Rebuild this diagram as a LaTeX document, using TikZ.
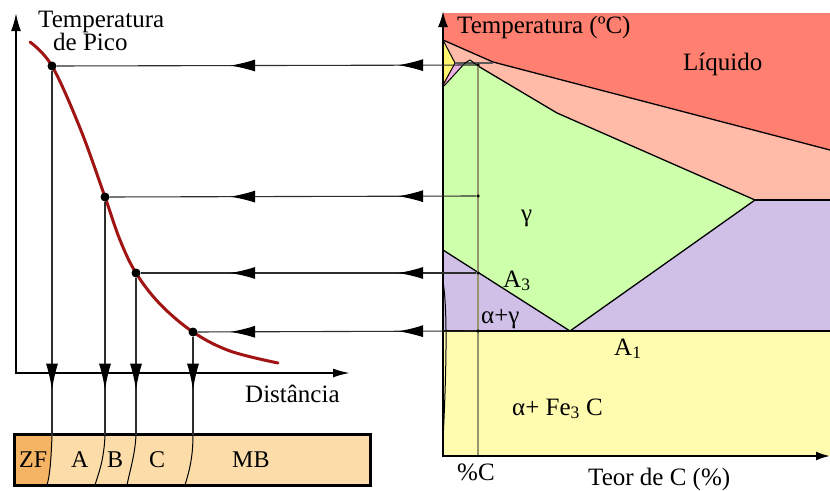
\documentclass[tikz,border=0pt]{standalone}
\usepackage{fontspec}
\setmainfont{Liberation Serif}
\usetikzlibrary{arrows.meta,decorations.markings}
\definecolor{liq}{RGB}{255,128,112}
\definecolor{salm}{RGB}{255,187,168}
\definecolor{gam}{RGB}{206,255,170}
\definecolor{purp}{RGB}{208,192,232}
\definecolor{yel}{RGB}{255,252,176}
\definecolor{delt}{RGB}{255,245,110}
\definecolor{pinkd}{RGB}{235,178,225}
\definecolor{barc}{RGB}{252,221,170}
\definecolor{zfc}{RGB}{245,180,100}
\definecolor{curvec}{RGB}{160,20,20}
\definecolor{pcline}{RGB}{150,150,110}
\definecolor{gridc}{RGB}{45,45,45}
\begin{document}
\begin{tikzpicture}[x=1pt,y=-1pt,
  lbl/.style={font=\fontsize{25}{30}\selectfont, inner sep=0pt, anchor=base west},
  blbl/.style={font=\fontsize{24}{28}\selectfont, inner sep=0pt, anchor=base west},
  ldot/.style={circle, fill=black, inner sep=0pt, minimum size=9pt},
  rdot/.style={circle, fill=black, inner sep=0pt, minimum size=3.5pt},
  conn/.style={draw=gridc, line width=1.1pt},
  hmarks/.style={postaction={decorate,decoration={markings,
     mark=at position 78pt with {\arrow{Latex[length=25pt,width=12pt,color=black]}},
     mark=at position 246pt with {\arrow{Latex[length=25pt,width=12pt,color=black]}}}}},
  vmark/.style={postaction={decorate,decoration={markings,
     mark=at position #1 with {\arrow{Latex[length=26pt,width=12pt,color=black]}}}}},
  axis/.style={draw=black, line width=2pt},
  phase/.style={draw=black, line width=1.3pt, line join=round}
]
\useasboundingbox (0,0) rectangle (830,490);

% ---------- right diagram: phase fields ----------
\fill[liq] (443,13) rectangle (830,456);
\fill[salm] (443,40) -- (493,62) -- (830,150) -- (830,200) -- (755,200) -- (557,113) -- (478,66) -- (455,63) -- cycle;
\fill[gam] (444,86) -- (465,63) -- (470,60) -- (478,66) -- (557,113) -- (755,200) -- (570,331) -- (443,250) -- cycle;
\fill[delt] (443,40) -- (455,63) -- (443,85) -- cycle;
\fill[pinkd] (455,63) -- (465,63) -- (444,86) -- cycle;
\fill[purp] (443,250) -- (570,331) -- (755,200) -- (830,200) -- (830,331) -- (443,331) -- cycle;
\fill[yel] (443,331) rectangle (830,456);

% phase lines
\draw[phase] (443,40) -- (493,62) -- (830,150);
\draw[phase] (478,66) -- (557,113) -- (755,200);
\draw[draw=black, line width=2pt] (755,200) -- (830,200);
\draw[phase, line width=1pt] (443,40) -- (455,63) -- (443,85);
\draw[draw=gray!70!black, line width=1.3pt] (455,63) -- (493,63);
\draw[phase, line width=1pt] (465,63) -- (444,86);
\draw[phase, line width=1pt] (465,63) -- (470,60) -- (478,66);
\draw[phase] (443,250) -- (570,331) -- (755,200);
\draw[phase] (443,331) -- (830,331);
\draw[black, line width=1pt] (443,282) .. controls (448,310) and (446,380) .. (443,440);

% %C vertical line
\coordinate (cTop) at (478,65);
\coordinate (cBot) at (478,456);
\draw[draw=pcline, line width=1.5pt] (cTop) -- (cBot);

% right axes
\draw[axis, -{Latex[length=16pt,width=10pt]}] (443,457) -- (443,11);
\draw[axis, -{Latex[length=14pt,width=9pt]}] (442,456) -- (830,456);

% ---------- left graph ----------
\draw[axis, -{Latex[length=18pt,width=10pt]}] (16,374) -- (16,13);
\draw[axis, -{Latex[length=17pt,width=9pt]}] (15,373) -- (350,373);

\draw[curvec, line width=3pt, line cap=round]
  plot[smooth, tension=0.6] coordinates {(30,42) (52,66) (80,128) (105,197) (120,240) (136,273) (160,304) (193,332) (230,351) (278,363)};

\node[ldot] (p1) at (52,66) {};
\node[ldot] (p2) at (105,197) {};
\node[ldot] (p3) at (136,273) {};
\node[ldot] (p4) at (193,332) {};

\node[rdot] (q1) at (478,65) {};
\node[rdot] (q2) at (478,196) {};
\node[rdot] (q3) at (478,273) {};
\node[rdot] (q4) at (478,331) {};

\draw[conn, hmarks] (q1) -- (p1);
\draw[conn, hmarks] (q2) -- (p2);
\draw[conn, hmarks] (q3) -- (p3);
\draw[conn, hmarks] (q4) -- (p4);

% ---------- bar ----------
\coordinate (b1) at (52,436);
\coordinate (b2) at (105,435);
\coordinate (b3) at (136,435);
\coordinate (b4) at (193,435);

\fill[barc] (14,435) rectangle (370,485);
\fill[zfc] (14,434) -- (52,436) .. controls (51,460) and (50,475) .. (47,485) -- (14,485) -- cycle;
\draw[black, line width=1pt] (52,436) .. controls (51,460) and (50,475) .. (47,485);
\draw[black, line width=1pt] (105,435) .. controls (104,460) and (99,472) .. (95,485);
\draw[black, line width=1pt] (136,435) .. controls (135,455) and (130,470) .. (127,485);
\draw[black, line width=1pt] (193,435) .. controls (193,458) and (189,472) .. (185,485);
\draw[black, line width=3pt] (14,434) rectangle (370,485);

\draw[conn, vmark=319pt] (p1) -- (b1);
\draw[conn, vmark=188pt] (p2) -- (b2);
\draw[conn, vmark=112pt] (p3) -- (b3);
\draw[conn, vmark=53pt] (p4) -- (b4);

% ---------- labels ----------
\node[lbl] (tp1) at (38,27) {Temperatura};
\node[lbl] (tp2) at (53,50) {de Pico};
\node[lbl] (dist) at (245,402) {Distância};
\node[blbl] (zf) at (19,467) {ZF};
\node[blbl] (la) at (71,467) {A};
\node[blbl] (lb) at (107,467) {B};
\node[blbl] (lc) at (149,467) {C};
\node[blbl] (mb) at (232,467) {MB};

\node[lbl] (tc) at (457,33) {Temperatura (ºC)};
\node[lbl] (liqt) at (683,70) {Líquido};
\node[lbl] (gt) at (521,221) {γ};
\node[lbl] (a3) at (503,287) {A\textsubscript{3}};
\node[lbl] (ag) at (481,323) {α+γ};
\node[lbl] (a1) at (614,355) {A\textsubscript{1}};
\node[lbl] (afe) at (512,415) {α+ Fe\textsubscript{3} C};
\node[lbl] (pc) at (457,480) {\%C};
\node[lbl] (teor) at (588,485) {Teor de C (\%)};
\end{tikzpicture}
\end{document}
